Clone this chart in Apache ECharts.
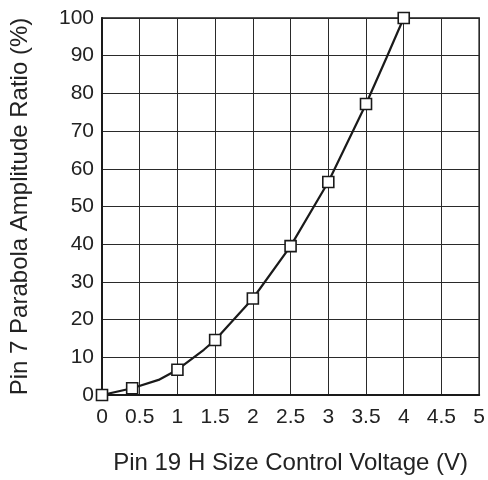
<!DOCTYPE html>
<html>
<head>
<meta charset="utf-8">
<script src="https://cdn.jsdelivr.net/npm/echarts@6/dist/echarts.min.js"></script>
<style>html,body{margin:0;padding:0;background:#fff}#c{width:488px;height:480px}</style>
</head>
<body>
<div id="c"></div>
<script>
// Curve (line) points
var curveX = [0, 0.4, 0.75, 1, 1.35, 1.5, 2, 2.5, 3, 3.5, 3.77, 4];
var curveY = [0, 1.8, 4.0, 6.7, 12.0, 14.6, 25.6, 39.5, 56.5, 77.2, 89.4, 100];
// Marked points
var markX = [0, 0.4, 1, 1.5, 2, 2.5, 3, 3.5, 4];
var markY = [0, 1.8, 6.7, 14.6, 25.6, 39.5, 56.5, 77.2, 100];
var xTicks = ['0', '0.5', '1', '1.5', '2', '2.5', '3', '3.5', '4', '4.5', '5'];
var xName = 'Pin 19 H Size Control Voltage (V)';
var yName = 'Pin 7 Parabola Amplitude Ratio (%)';

var FONT = 'Liberation Sans, Arial, Helvetica, sans-serif';
var chart = echarts.init(document.getElementById('c'), null, {renderer: 'canvas'});
chart.setOption({
  animation: false,
  backgroundColor: '#fff',
  grid: {left: 102, right: 7, top: 18, bottom: 83, show: true, borderColor: '#1a1a1a', borderWidth: 1.5, backgroundColor: 'transparent'},
  xAxis: {
    type: 'value', min: 0, max: 5, interval: 0.5,
    name: xName, nameLocation: 'middle', nameGap: 56,
    nameTextStyle: {fontFamily: FONT, fontSize: 24, color: '#222'},
    axisLine: {show: true, lineStyle: {color: '#1a1a1a', width: 2}},
    axisTick: {show: false},
    axisLabel: {fontFamily: FONT, fontSize: 21, color: '#222', margin: 12,
      formatter: function (v) { var i = Math.round(v * 2); return xTicks[i]; }},
    splitLine: {show: true, lineStyle: {color: '#2a2a2a', width: 1}}
  },
  yAxis: {
    type: 'value', min: 0, max: 100, interval: 10,
    name: yName, nameLocation: 'middle', nameGap: 70,
    nameTextStyle: {fontFamily: FONT, fontSize: 24, color: '#222'},
    axisLine: {show: true, lineStyle: {color: '#1a1a1a', width: 2}},
    axisTick: {show: false},
    axisLabel: {fontFamily: FONT, fontSize: 21, color: '#222', margin: 8},
    splitLine: {show: true, lineStyle: {color: '#2a2a2a', width: 1}}
  },
  series: [
    {
      type: 'line', data: curveX.map(function (x, i) { return [x, curveY[i]]; }),
      showSymbol: false, symbol: 'none',
      lineStyle: {color: '#1a1a1a', width: 2.2}, z: 3
    },
    {
      type: 'scatter', data: markX.map(function (x, i) { return [x, markY[i]]; }),
      symbol: 'rect', symbolSize: 11,
      itemStyle: {color: '#fff', borderColor: '#1a1a1a', borderWidth: 1.6, opacity: 1}, z: 4
    }
  ]
});
</script>
</body>
</html>
